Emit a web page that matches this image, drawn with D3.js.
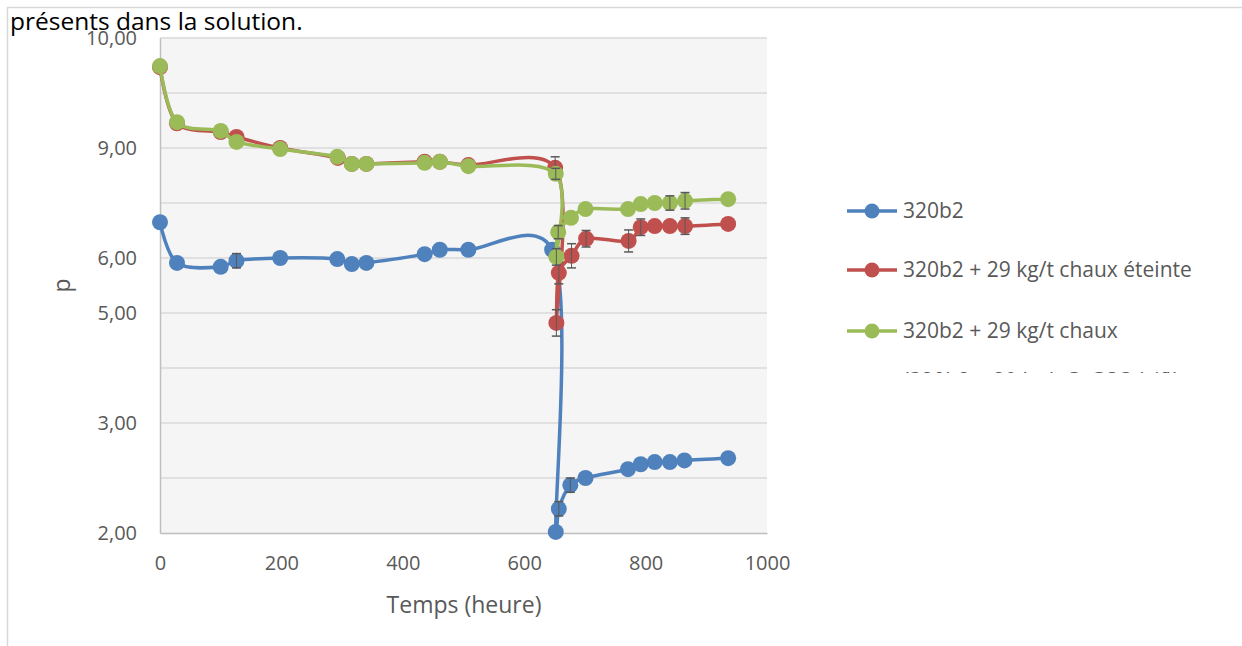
<!DOCTYPE html>
<html>
<head>
<meta charset="utf-8">
<script src="https://cdn.jsdelivr.net/npm/d3@7"></script>
<style>
  body { margin: 0; background: #fff; }
  text { font-family: "Open Sans", "Noto Sans", sans-serif; }
</style>
</head>
<body>
<svg id="chart"></svg>
<script>
// Data (y in gridline units: 1 = bottom line, 10 = top line)
const seriesNames = ["320b2", "320b2 + 29 kg/t chaux éteinte", "320b2 + 29 kg/t chaux", "(320b2 + 29 kg/t CaCO3 (vif))"];
const seriesColors = ["#4f81bd", "#c0504d", "#9bbb59"];

const blueHours = [0, 28, 100, 126, 198, 292, 316, 340, 436, 461, 508, 646, 652, 657, 676, 701, 771, 792, 815, 840, 864, 936];
const blueValues = [6.65, 5.91, 5.84, 5.95, 6.0, 5.98, 5.89, 5.91, 6.07, 6.15, 6.15, 6.15, 1.02, 1.44, 1.87, 2.0, 2.16, 2.25, 2.29, 2.29, 2.32, 2.36];
const blueErrors = [0, 0, 0, 0.13, 0, 0, 0, 0, 0, 0, 0, 0, 0, 0.13, 0.13, 0, 0, 0, 0, 0, 0, 0];

const redHours = [0, 28, 100, 126, 198, 293, 316, 340, 436, 461, 508, 651, 653, 657, 678, 702, 772, 792, 815, 840, 865, 936];
const redValues = [9.47, 8.45, 8.29, 8.2, 8.0, 7.82, 7.71, 7.71, 7.75, 7.75, 7.69, 7.64, 4.82, 5.73, 6.04, 6.35, 6.31, 6.56, 6.58, 6.58, 6.58, 6.62];
const redErrors = [0, 0, 0, 0, 0, 0, 0, 0, 0, 0, 0, 0.2, 0.24, 0.2, 0.22, 0.15, 0.2, 0.15, 0, 0, 0.15, 0];

const greenHours = [0, 28, 100, 126, 198, 292, 316, 340, 436, 461, 508, 652, 653, 656, 677, 701, 771, 792, 815, 840, 865, 936];
const greenValues = [9.49, 8.47, 8.31, 8.11, 7.98, 7.84, 7.71, 7.71, 7.73, 7.75, 7.67, 7.53, 6.02, 6.47, 6.73, 6.89, 6.89, 6.98, 7.0, 7.0, 7.04, 7.07];
const greenErrors = [0, 0, 0, 0, 0, 0, 0, 0, 0, 0, 0, 0.1, 0.15, 0.12, 0, 0, 0, 0, 0, 0.13, 0.15, 0];

const xTicks = [0, 200, 400, 600, 800, 1000];
const yTicks = [1, 2, 3, 4, 5, 6, 7, 8, 9, 10];
const yTickLabels = ["2,00", "", "3,00", "", "5,00", "6,00", "", "9,00", "", "10,00"];

const width = 1242, height = 646;
const plot = { left: 160, right: 767, top: 38, bottom: 533 };

const svg = d3.select("#chart").attr("width", width).attr("height", height);

// page frame + cut text line above the chart
svg.append("path")
  .attr("d", `M7.5,${height} V7.5 H${width}`)
  .attr("fill", "none").attr("stroke", "#d9d9d9").attr("stroke-width", 1.5);

svg.append("text")
  .attr("x", 10).attr("y", 30)
  .style("font-size", "24.5px").style("fill", "#000")
  .text("présents dans la solution.");

const x = d3.scaleLinear().domain([0, 1000]).range([plot.left, plot.right]);
const y = d3.scaleLinear().domain([1, 10]).range([plot.bottom, plot.top]);

// plot background
svg.append("rect")
  .attr("x", plot.left).attr("y", plot.top)
  .attr("width", plot.right - plot.left).attr("height", plot.bottom - plot.top)
  .attr("fill", "#f5f5f5");

// horizontal gridlines
svg.append("g")
  .selectAll("line")
  .data(yTicks.slice(1))
  .join("line")
  .attr("x1", plot.left).attr("x2", plot.right)
  .attr("y1", (d) => y(d)).attr("y2", (d) => y(d))
  .attr("stroke", "#d9d9d9").attr("stroke-width", 1.5);

// y axis
const yAxis = svg.append("g")
  .attr("transform", `translate(${plot.left},0)`)
  .call(d3.axisLeft(y).tickValues(yTicks).tickSize(0).tickPadding(23)
    .tickFormat((d, i) => yTickLabels[i]));
yAxis.select(".domain").attr("stroke", "#bfbfbf").attr("stroke-width", 1.5);
yAxis.selectAll("text").style("font-size", "20px").style("fill", "#595959")
  .style("font-family", "'Open Sans', sans-serif");

// x axis
const xAxis = svg.append("g")
  .attr("transform", `translate(0,${plot.bottom})`)
  .call(d3.axisBottom(x).tickValues(xTicks).tickSize(0).tickPadding(23)
    .tickFormat(d3.format("d")));
xAxis.select(".domain").attr("stroke", "#bfbfbf").attr("stroke-width", 1.5);
xAxis.selectAll("text").style("font-size", "20px").style("fill", "#595959")
  .style("font-family", "'Open Sans', sans-serif");

// axis titles
svg.append("text")
  .attr("x", 464).attr("y", 613)
  .attr("text-anchor", "middle")
  .style("font-size", "23px").style("fill", "#595959")
  .text("Temps (heure)");

svg.append("text")
  .attr("transform", `translate(70,${(plot.top + plot.bottom) / 2}) rotate(-90)`)
  .attr("text-anchor", "middle")
  .style("font-size", "23px").style("fill", "#595959")
  .text("p");

// build series
const series = [
  { hours: blueHours, values: blueValues, errors: blueErrors },
  { hours: redHours, values: redValues, errors: redErrors },
  { hours: greenHours, values: greenValues, errors: greenErrors },
].map((s, i) => ({
  color: seriesColors[i],
  points: s.hours.map((h, j) => ({ h: h, v: s.values[j], e: s.errors[j] })),
}));

const line = d3.line()
  .x((d) => x(d.h))
  .y((d) => y(d.v))
  .curve(d3.curveCatmullRom.alpha(0.2));

// draw blue first, then red, then green on top
series.forEach((s) => {
  const g = svg.append("g");
  g.append("path")
    .datum(s.points)
    .attr("d", line)
    .attr("fill", "none")
    .attr("stroke", s.color)
    .attr("stroke-width", 3.5)
    .attr("stroke-linejoin", "round");

  g.selectAll("circle")
    .data(s.points)
    .join("circle")
    .attr("cx", (d) => x(d.h))
    .attr("cy", (d) => y(d.v))
    .attr("r", 8)
    .attr("fill", s.color);

  // error bars
  const eb = g.selectAll(".err")
    .data(s.points.filter((d) => d.e > 0))
    .join("g")
    .attr("class", "err")
    .attr("stroke", "#595959")
    .attr("stroke-width", 1.5);
  eb.append("line")
    .attr("x1", (d) => x(d.h)).attr("x2", (d) => x(d.h))
    .attr("y1", (d) => y(d.v - d.e)).attr("y2", (d) => y(d.v + d.e))
    .attr("stroke-width", 1);
  [-1, 1].forEach((sign) => {
    eb.append("line")
      .attr("x1", (d) => x(d.h) - 4.5).attr("x2", (d) => x(d.h) + 4.5)
      .attr("y1", (d) => y(d.v + sign * d.e)).attr("y2", (d) => y(d.v + sign * d.e));
  });
});

// legend (fourth entry is cut off in the picture)
svg.append("clipPath").attr("id", "legend-clip")
  .append("rect").attr("x", 830).attr("y", 180).attr("width", 412).attr("height", 193);

const legend = svg.append("g").attr("clip-path", "url(#legend-clip)");
const legendRows = [211, 270, 331, 380.5];
const legendColors = seriesColors.concat(["#8064a2"]);

seriesNames.forEach((name, i) => {
  const row = legend.append("g").attr("transform", `translate(0,${legendRows[i]})`);
  row.append("line")
    .attr("x1", 847).attr("x2", 897)
    .attr("stroke", legendColors[i]).attr("stroke-width", 3.5);
  row.append("circle")
    .attr("cx", 872).attr("r", 7.5)
    .attr("fill", legendColors[i]);
  row.append("text")
    .attr("x", 903).attr("dy", "0.35em")
    .style("font-size", "21px").style("fill", "#595959")
    .text(name);
});
</script>
</body>
</html>
